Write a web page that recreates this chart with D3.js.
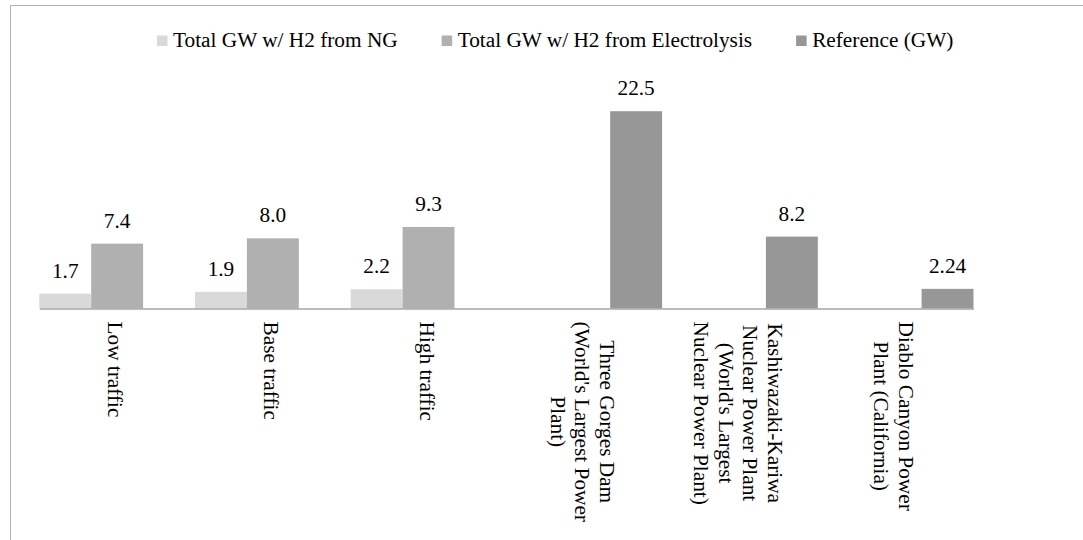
<!DOCTYPE html>
<html>
<head>
<meta charset="utf-8">
<script src="https://cdn.jsdelivr.net/npm/d3@7"></script>
<style>
  html, body { margin: 0; padding: 0; background: #fff; }
  svg { display: block; }
  text { font-family: "Liberation Serif", "Times New Roman", Times, "DejaVu Serif", serif; fill: #000; }
</style>
</head>
<body>
<svg id="chart" width="1083" height="540"></svg>
<script>
// Categories (axis labels split into their wrapped lines)
const categories = [
  "Low traffic",
  "Base traffic",
  "High traffic",
  "Three Gorges Dam (World's Largest Power Plant)",
  "Kashiwazaki-Kariwa Nuclear Power Plant (World's Largest Nuclear Power Plant)",
  "Diablo Canyon Power Plant (California)"
];
const categoryLines = [
  ["Low traffic"],
  ["Base traffic"],
  ["High traffic"],
  ["Three Gorges Dam", "(World's Largest Power", "Plant)"],
  ["Kashiwazaki-Kariwa", "Nuclear Power Plant", "(World's Largest", "Nuclear Power Plant)"],
  ["Diablo Canyon Power", "Plant (California)"]
];

// Series names and values (GW); null = no bar for that category
const seriesNames = [
  "Total GW w/ H2 from NG",
  "Total GW w/ H2 from Electrolysis",
  "Reference (GW)"
];
const ngValues   = [1.7, 1.9, 2.2, null, null, null];
const elecValues = [7.4, 8.0, 9.3, null, null, null];
const refValues  = [null, null, null, 22.5, 8.2, 2.24];
const seriesColors = ["#d9d9d9", "#b0b0b0", "#979797"];

const seriesValues = [ngValues, elecValues, refValues];

const svg = d3.select("#chart");
const FONT = 21.3;

// Outer frame (left and top edges)
svg.append("path")
  .attr("d", "M10.5,540 V5.5 H1083")
  .attr("fill", "none")
  .attr("stroke", "#b3b3b3")
  .attr("stroke-width", 1);

// Scales
const x0 = d3.scaleBand().domain(categories).range([39.3, 973.5]).padding(0);
const x1 = d3.scaleBand().domain(seriesNames).range([0, x0.bandwidth()]).padding(0);
const y = d3.scaleLinear().domain([0, 25]).range([308.5, 89.3]);

// Flatten into bar records
const bars = [];
categories.forEach((c, i) => {
  seriesNames.forEach((s, j) => {
    const v = seriesValues[j][i];
    if (v !== null && v !== undefined) bars.push({ cat: c, series: s, value: v, color: seriesColors[j] });
  });
});

// Label text keeps the value's own decimals (at least one)
const fmt = v => {
  const s = String(v);
  const dec = s.includes(".") ? s.split(".")[1].length : 0;
  return v.toFixed(Math.max(1, dec));
};

const plot = svg.append("g");

plot.selectAll("rect.bar")
  .data(bars)
  .join("rect")
  .attr("class", "bar")
  .attr("x", d => x0(d.cat) + x1(d.series))
  .attr("y", d => y(d.value))
  .attr("width", x1.bandwidth())
  .attr("height", d => y(0) - y(d.value))
  .attr("fill", d => d.color);

plot.selectAll("text.val")
  .data(bars)
  .join("text")
  .attr("class", "val")
  .attr("x", d => x0(d.cat) + x1(d.series) + x1.bandwidth() / 2)
  .attr("y", d => y(d.value) - 16)
  .attr("text-anchor", "middle")
  .attr("font-size", FONT)
  .text(d => fmt(d.value));

// Category axis
const xAxis = svg.append("g")
  .attr("transform", `translate(0,${y(0)})`)
  .call(d3.axisBottom(x0).tickSize(0).tickSizeOuter(0).tickFormat(""));
xAxis.select(".domain").attr("stroke", "#a6a6a6").attr("stroke-width", 1.6);
xAxis.selectAll(".tick text").remove();

// Rotated, wrapped category labels
const lineH = 24.5;
categories.forEach((c, i) => {
  const lines = categoryLines[i];
  const g = svg.append("g")
    .attr("transform", `translate(${x0(c) + x0.bandwidth() / 2 - 2},${y(0) + 13}) rotate(90)`);
  const texts = lines.map((ln, k) => g.append("text")
    .attr("font-size", FONT)
    .attr("text-anchor", "middle")
    .attr("dominant-baseline", "central")
    .attr("y", (k - (lines.length - 1) / 2) * lineH)
    .text(ln));
  const maxLen = d3.max(texts, t => t.node().getComputedTextLength());
  texts.forEach(t => t.attr("x", maxLen / 2));
});

// Legend
const legend = svg.append("g");
let lx = 157;
seriesNames.forEach((s, j) => {
  legend.append("rect")
    .attr("x", lx).attr("y", 35.5)
    .attr("width", 10.5).attr("height", 10.5)
    .attr("fill", seriesColors[j]);
  const t = legend.append("text")
    .attr("x", lx + 16).attr("y", 46.5)
    .attr("font-size", FONT)
    .text(s);
  lx += 16 + t.node().getComputedTextLength() + 44;
});
</script>
</body>
</html>
